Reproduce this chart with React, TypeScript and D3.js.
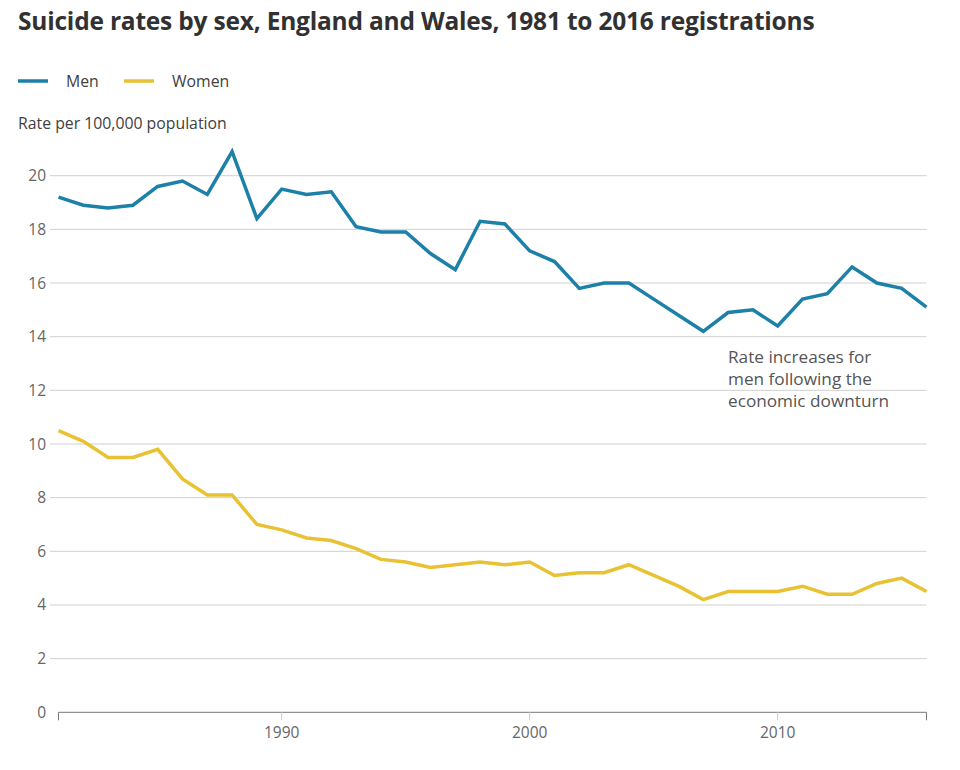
import React from "react";
import * as d3 from "d3";

const years: number[] = [
  1981, 1982, 1983, 1984, 1985, 1986, 1987, 1988, 1989, 1990, 1991, 1992,
  1993, 1994, 1995, 1996, 1997, 1998, 1999, 2000, 2001, 2002, 2003, 2004,
  2005, 2006, 2007, 2008, 2009, 2010, 2011, 2012, 2013, 2014, 2015, 2016,
];
const men: number[] = [
  19.2, 18.9, 18.8, 18.9, 19.6, 19.8, 19.3, 20.9, 18.4, 19.5, 19.3, 19.4,
  18.1, 17.9, 17.9, 17.1, 16.5, 18.3, 18.2, 17.2, 16.8, 15.8, 16.0, 16.0,
  15.4, 14.8, 14.2, 14.9, 15.0, 14.4, 15.4, 15.6, 16.6, 16.0, 15.8, 15.1,
];
const women: number[] = [
  10.5, 10.1, 9.5, 9.5, 9.8, 8.7, 8.1, 8.1, 7.0, 6.8, 6.5, 6.4,
  6.1, 5.7, 5.6, 5.4, 5.5, 5.6, 5.5, 5.6, 5.1, 5.2, 5.2, 5.5,
  5.1, 4.7, 4.2, 4.5, 4.5, 4.5, 4.7, 4.4, 4.4, 4.8, 5.0, 4.5,
];
const yTicks: number[] = [0, 2, 4, 6, 8, 10, 12, 14, 16, 18, 20];
const xTicks: number[] = [1990, 2000, 2010];
const seriesNames: string[] = ["Men", "Women"];
const seriesColors: string[] = ["#1d80a8", "#e8c232"];
const title = "Suicide rates by sex, England and Wales, 1981 to 2016 registrations";
const yLabel = "Rate per 100,000 population";
const annotation: string[] = ["Rate increases for", "men following the", "economic downturn"];

const FONT = "'Open Sans', 'Noto Sans', sans-serif";

export default function App() {
  const W = 960;
  const H = 770;
  const x = d3.scaleLinear().domain([1981, 2016]).range([58.5, 926.5]);
  const y = d3.scaleLinear().domain([0, 20]).range([712.3, 175.7]);
  const line = d3
    .line<[number, number]>()
    .x((d) => x(d[0]))
    .y((d) => y(d[1]));
  const series = [men, women];

  return (
    <svg
      width={W}
      height={H}
      style={{ position: "absolute", left: 0, top: 0, background: "#fff" }}
      fontFamily={FONT}
    >
      <text x={18} y={30} fontSize={24.5} fontWeight={700} fill="#323132" letterSpacing={-0.2}>
        {title}
      </text>
      {seriesNames.map((n, i) => {
        const lx = i === 0 ? 18 : 124;
        return (
          <g key={n}>
            <line x1={lx} x2={lx + 30} y1={81} y2={81} stroke={seriesColors[i]} strokeWidth={3.5} />
            <text x={lx + 48} y={87} fontSize={15.8} fill="#414042">
              {n}
            </text>
          </g>
        );
      })}
      <text x={18} y={129} fontSize={15.8} fill="#414042">
        {yLabel}
      </text>
      {yTicks.map((t) => (
        <g key={t}>
          {t > 0 && (
            <line x1={50} x2={926.5} y1={y(t)} y2={y(t)} stroke="#d0d0d0" strokeWidth={1} />
          )}
          <text x={46} y={y(t) + 5.5} textAnchor="end" fontSize={15.5} fill="#666">
            {t}
          </text>
        </g>
      ))}
      <line x1={x(1981)} x2={x(2016)} y1={y(0)} y2={y(0)} stroke="#777" strokeWidth={1} />
      {[1981, 2016].map((t) => (
        <line key={t} x1={x(t)} x2={x(t)} y1={y(0)} y2={y(0) + 8} stroke="#777" strokeWidth={1} />
      ))}
      {xTicks.map((t) => (
        <g key={t}>
          <line x1={x(t)} x2={x(t)} y1={y(0)} y2={y(0) + 8} stroke="#ccc" strokeWidth={1} />
          <text x={x(t)} y={y(0) + 26} textAnchor="middle" fontSize={15.5} fill="#666">
            {t}
          </text>
        </g>
      ))}
      {series.map((s, i) => (
        <path
          key={i}
          d={line(years.map((yr, j) => [yr, s[j]] as [number, number])) || ""}
          fill="none"
          stroke={seriesColors[i]}
          strokeWidth={3.5}
          strokeLinejoin="miter"
        />
      ))}
      {annotation.map((l, i) => (
        <text key={i} x={728} y={363 + i * 22} fontSize={17.2} fill="#555">
          {l}
        </text>
      ))}
    </svg>
  );
}
